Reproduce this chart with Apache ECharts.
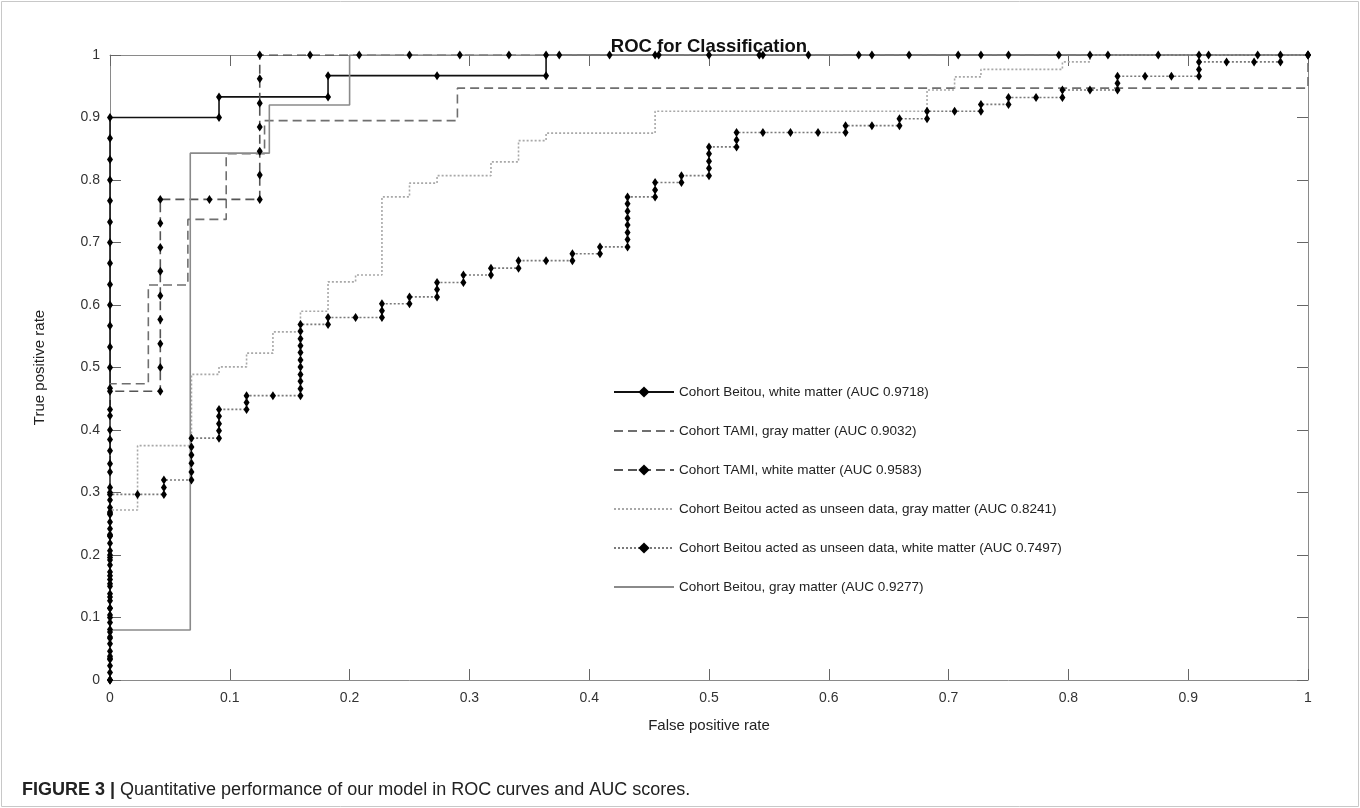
<!DOCTYPE html>
<html>
<head>
<meta charset="UTF-8">
<title>ROC for Classification</title>
<script src="https://cdn.jsdelivr.net/npm/echarts/dist/echarts.min.js"></script>
<style>
  html, body { margin: 0; padding: 0; background: #fff; }
  #main { width: 1360px; height: 808px; }
</style>
</head>
<body>
<div id="main"></div>
<script>
// axis ticks
var xTicks = [0, 0.1, 0.2, 0.3, 0.4, 0.5, 0.6, 0.7, 0.8, 0.9, 1];
var yTicks = [0, 0.1, 0.2, 0.3, 0.4, 0.5, 0.6, 0.7, 0.8, 0.9, 1];

var seriesNames = [
  'Cohort Beitou, white matter (AUC 0.9718)',
  'Cohort TAMI, gray matter (AUC 0.9032)',
  'Cohort TAMI, white matter (AUC 0.9583)',
  'Cohort Beitou acted as unseen data, gray matter (AUC 0.8241)',
  'Cohort Beitou acted as unseen data, white matter (AUC 0.7497)',
  'Cohort Beitou, gray matter (AUC 0.9277)'
];

// [false positive rate, true positive rate]
var beitouWhite = [
  [0, 0], [0, 0.033], [0, 0.067], [0, 0.1], [0, 0.133], [0, 0.167], [0, 0.2],
  [0, 0.233], [0, 0.267], [0, 0.3], [0, 0.333], [0, 0.367], [0, 0.4], [0, 0.433],
  [0, 0.467], [0, 0.5], [0, 0.533], [0, 0.567], [0, 0.6], [0, 0.633], [0, 0.667],
  [0, 0.7], [0, 0.733], [0, 0.767], [0, 0.8], [0, 0.833], [0, 0.867], [0, 0.9],
  [0.091, 0.9], [0.091, 0.933], [0.182, 0.933], [0.182, 0.967], [0.273, 0.967],
  [0.364, 0.967], [0.364, 1], [0.455, 1], [0.545, 1], [0.636, 1], [0.727, 1],
  [0.818, 1], [0.909, 1], [1, 1]
];

var tamiGray = [
  [0, 0], [0, 0.474], [0.032, 0.474], [0.032, 0.632], [0.065, 0.632], [0.065, 0.737],
  [0.097, 0.737], [0.097, 0.842], [0.129, 0.842], [0.129, 0.895], [0.29, 0.895],
  [0.29, 0.947], [1, 0.947], [1, 1]
];

var tamiWhite = [
  [0, 0], [0, 0.038], [0, 0.077], [0, 0.115], [0, 0.154], [0, 0.192], [0, 0.231],
  [0, 0.269], [0, 0.308], [0, 0.346], [0, 0.385], [0, 0.423], [0, 0.462],
  [0.042, 0.462], [0.042, 0.5], [0.042, 0.538], [0.042, 0.577], [0.042, 0.615],
  [0.042, 0.654], [0.042, 0.692], [0.042, 0.731], [0.042, 0.769], [0.083, 0.769],
  [0.125, 0.769], [0.125, 0.808], [0.125, 0.846], [0.125, 0.885], [0.125, 0.923],
  [0.125, 0.962], [0.125, 1], [0.167, 1], [0.208, 1], [0.25, 1], [0.292, 1],
  [0.333, 1], [0.375, 1], [0.417, 1], [0.458, 1], [0.5, 1], [0.542, 1], [0.583, 1],
  [0.625, 1], [0.667, 1], [0.708, 1], [0.75, 1], [0.792, 1], [0.833, 1], [0.875, 1],
  [0.917, 1], [0.958, 1], [1, 1]
];

var unseenGray = [
  [0, 0], [0, 0.272], [0.023, 0.272], [0.023, 0.375], [0.068, 0.375], [0.068, 0.489],
  [0.091, 0.489], [0.091, 0.501], [0.114, 0.501], [0.114, 0.523], [0.136, 0.523],
  [0.136, 0.557], [0.159, 0.557], [0.159, 0.59], [0.182, 0.59], [0.182, 0.637],
  [0.205, 0.637], [0.205, 0.648], [0.227, 0.648], [0.227, 0.773], [0.25, 0.773],
  [0.25, 0.795], [0.273, 0.795], [0.273, 0.807], [0.318, 0.807], [0.318, 0.829],
  [0.341, 0.829], [0.341, 0.863], [0.364, 0.863], [0.364, 0.875], [0.455, 0.875],
  [0.455, 0.91], [0.682, 0.91], [0.682, 0.944], [0.705, 0.944], [0.705, 0.965],
  [0.727, 0.965], [0.727, 0.977], [0.795, 0.977], [0.795, 0.989], [0.818, 0.989],
  [0.818, 1], [1, 1]
];

var unseenWhite = [
  [0, 0], [0, 0.012], [0, 0.023], [0, 0.035], [0, 0.046], [0, 0.058], [0, 0.069],
  [0, 0.081], [0, 0.092], [0, 0.104], [0, 0.115], [0, 0.127], [0, 0.138], [0, 0.15],
  [0, 0.161], [0, 0.173], [0, 0.184], [0, 0.196], [0, 0.207], [0, 0.219], [0, 0.23],
  [0, 0.242], [0, 0.253], [0, 0.265], [0, 0.276], [0, 0.288], [0, 0.297],
  [0.023, 0.297], [0.045, 0.297], [0.045, 0.308], [0.045, 0.32],
  [0.068, 0.32], [0.068, 0.333], [0.068, 0.347], [0.068, 0.36], [0.068, 0.373], [0.068, 0.387],
  [0.091, 0.387], [0.091, 0.399], [0.091, 0.41], [0.091, 0.422], [0.091, 0.433],
  [0.114, 0.433], [0.114, 0.444], [0.114, 0.455], [0.136, 0.455],
  [0.159, 0.455], [0.159, 0.466], [0.159, 0.478], [0.159, 0.489], [0.159, 0.501],
  [0.159, 0.512], [0.159, 0.524], [0.159, 0.535], [0.159, 0.546], [0.159, 0.558], [0.159, 0.569],
  [0.182, 0.569], [0.182, 0.58], [0.205, 0.58],
  [0.227, 0.58], [0.227, 0.591], [0.227, 0.602], [0.25, 0.602], [0.25, 0.613],
  [0.273, 0.613], [0.273, 0.625], [0.273, 0.636], [0.295, 0.636], [0.295, 0.648],
  [0.318, 0.648], [0.318, 0.659], [0.341, 0.659], [0.341, 0.671], [0.364, 0.671],
  [0.386, 0.671], [0.386, 0.682], [0.409, 0.682], [0.409, 0.693],
  [0.432, 0.693], [0.432, 0.705], [0.432, 0.716], [0.432, 0.728], [0.432, 0.739],
  [0.432, 0.75], [0.432, 0.762], [0.432, 0.773],
  [0.455, 0.773], [0.455, 0.784], [0.455, 0.796], [0.477, 0.796], [0.477, 0.807],
  [0.5, 0.807], [0.5, 0.819], [0.5, 0.83], [0.5, 0.842], [0.5, 0.853],
  [0.523, 0.853], [0.523, 0.864], [0.523, 0.876], [0.545, 0.876], [0.568, 0.876],
  [0.591, 0.876], [0.614, 0.876], [0.614, 0.887], [0.636, 0.887], [0.659, 0.887],
  [0.659, 0.898], [0.682, 0.898], [0.682, 0.91], [0.705, 0.91], [0.727, 0.91],
  [0.727, 0.921], [0.75, 0.921], [0.75, 0.932], [0.773, 0.932], [0.795, 0.932],
  [0.795, 0.944], [0.818, 0.944], [0.841, 0.944], [0.841, 0.955], [0.841, 0.966],
  [0.864, 0.966], [0.886, 0.966], [0.909, 0.966], [0.909, 0.977], [0.909, 0.989],
  [0.932, 0.989], [0.955, 0.989], [0.977, 0.989], [0.977, 1], [1, 1]
];

var beitouGray = [
  [0, 0], [0, 0.08], [0.067, 0.08], [0.067, 0.843], [0.133, 0.843], [0.133, 0.92],
  [0.2, 0.92], [0.2, 1], [1, 1]
];

var FONT = '"Liberation Sans", Arial, Helvetica, sans-serif';
var chart = echarts.init(document.getElementById('main'), null, { renderer: 'canvas' });

function boxAxis(pos, isX, main) {
  return {
    type: 'value',
    position: pos,
    min: 0,
    max: 1,
    interval: 0.1,
    gridIndex: 0,
    axisLine: { show: true, onZero: false, lineStyle: { color: '#8a8a8a', width: 1 } },
    axisTick: { show: true, inside: true, length: 11, lineStyle: { color: '#666', width: 1 } },
    axisLabel: {
      show: main,
      fontFamily: FONT,
      fontSize: 14,
      color: '#333',
      margin: isX ? 11 : 10
    },
    splitLine: { show: false }
  };
}

var xMain = boxAxis('bottom', true, true);
xMain.name = 'False positive rate';
xMain.nameLocation = 'middle';
xMain.nameGap = 38;
xMain.nameTextStyle = { fontFamily: FONT, fontSize: 15, color: '#222' };

var yMain = boxAxis('left', false, true);
yMain.name = 'True positive rate';
yMain.nameLocation = 'middle';
yMain.nameGap = 63;
yMain.nameTextStyle = { fontFamily: FONT, fontSize: 15, color: '#222' };

var markerSize = [6, 9];
var hasMarker = [true, false, true, false, true, false];

function makeSeries(name, data, lineColor, lineType, withMarker) {
  return {
    name: name,
    type: 'line',
    data: data,
    xAxisIndex: 0,
    yAxisIndex: 0,
    symbol: withMarker ? 'diamond' : 'none',
    symbolSize: markerSize,
    showSymbol: withMarker,
    itemStyle: { color: '#000' },
    lineStyle: { color: lineColor, width: 1.6, type: lineType },
    emphasis: { disabled: true },
    animation: false
  };
}

var legendData = seriesNames.map(function (n, i) {
  var item = { name: n };
  if (!hasMarker[i]) {
    item.itemStyle = { opacity: 0 };
  }
  return item;
});

var option = {
  animation: false,
  title: {
    text: 'ROC for Classification',
    left: 704,
    top: 32,
    textAlign: 'center',
    textStyle: { fontFamily: FONT, fontSize: 18.5, fontWeight: 'bold', color: '#111' }
  },
  grid: { left: 110, right: 52, top: 55, bottom: 128, containLabel: false },
  xAxis: [xMain, boxAxis('top', true, false)],
  yAxis: [yMain, boxAxis('right', false, false)],
  legend: {
    orient: 'vertical',
    left: 608,
    top: 380,
    itemWidth: 60,
    itemHeight: 14,
    itemGap: 25,
    textStyle: { fontFamily: FONT, fontSize: 13.5, color: '#222' },
    data: legendData
  },
  series: [
    makeSeries(seriesNames[0], beitouWhite, '#111', 'solid', hasMarker[0]),
    makeSeries(seriesNames[1], tamiGray, '#6f6f6f', [9, 5], hasMarker[1]),
    makeSeries(seriesNames[2], tamiWhite, '#555', [9, 5], hasMarker[2]),
    makeSeries(seriesNames[3], unseenGray, '#a8a8a8', [2, 2], hasMarker[3]),
    makeSeries(seriesNames[4], unseenWhite, '#7a7a7a', [2, 2], hasMarker[4]),
    makeSeries(seriesNames[5], beitouGray, '#8a8a8a', 'solid', hasMarker[5])
  ],
  graphic: [
    {
      type: 'rect',
      shape: { x: 1.5, y: 1.5, width: 1357, height: 805 },
      style: { fill: 'none', stroke: '#c8c8c8', lineWidth: 1 },
      silent: true
    },
    {
      type: 'text',
      left: 22,
      top: 781,
      style: {
        text: '{b|FIGURE 3 |} Quantitative performance of our model in ROC curves and AUC scores.',
        rich: {
          b: { fontFamily: FONT, fontSize: 18, fontWeight: 'bold', fill: '#222' }
        },
        fontFamily: FONT,
        fontSize: 18,
        fill: '#222'
      }
    }
  ]
};

chart.setOption(option);
</script>
</body>
</html>
